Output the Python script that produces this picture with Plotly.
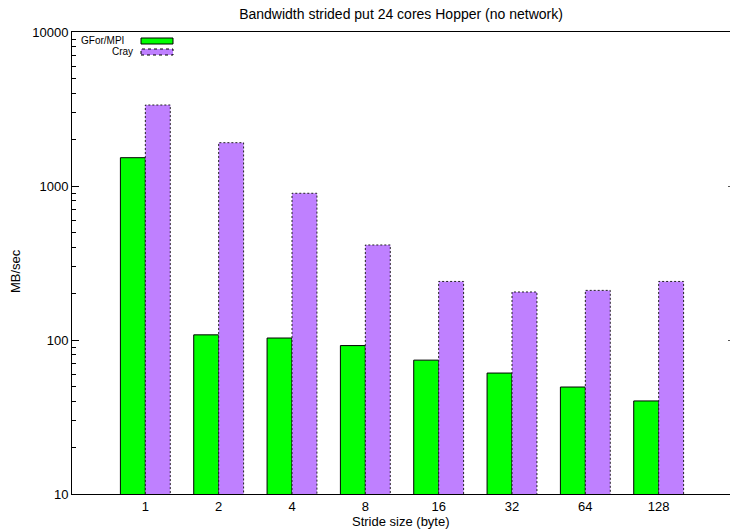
import plotly.graph_objects as go

# Stride sizes (bytes) and measured bandwidth in MB/sec
strides = ["1", "2", "4", "8", "16", "32", "64", "128"]
gfor_mpi = [1527, 108, 103, 92, 74, 61, 49.5, 40.2]
cray = [3357, 1911, 897, 414, 240, 205, 210, 240]

y_ticks = [10, 100, 1000, 10000]
y_tick_text = ["10", "100", "1000", "10000"]

W, H = 730, 529
L, R, T, B = 72, 0, 32, 35
bar_w = 0.34
y_floor = 10

FONT = "Liberation Sans, Arial, sans-serif"
GREEN = "#00ff00"
PURPLE = "#bf80ff"

idx = list(range(len(strides)))

fig = go.Figure()

fig.add_trace(go.Bar(
    x=idx, y=gfor_mpi, width=bar_w, offset=-bar_w,
    marker=dict(color=GREEN, line=dict(color="black", width=1)),
    name="GFor/MPI", showlegend=False,
))
fig.add_trace(go.Bar(
    x=idx, y=cray, width=bar_w, offset=0,
    marker=dict(color=PURPLE, line=dict(width=0)),
    name="Cray", showlegend=False,
))

# dashed outline around each Cray bar
ox, oy = [], []
for i, v in zip(idx, cray):
    ox += [i, i, i + bar_w, i + bar_w, None]
    oy += [y_floor, v, v, y_floor, None]
fig.add_trace(go.Scatter(
    x=ox, y=oy, mode="lines", showlegend=False, hoverinfo="skip",
    line=dict(color="#222222", width=1, dash="2px,2px"),
))

# invisible trace carrying right-hand tick marks
fig.add_trace(go.Scatter(x=[0], y=[100], yaxis="y2", mode="markers",
                         marker=dict(opacity=0), showlegend=False, hoverinfo="skip"))

plot_w = W - L - R
plot_h = H - T - B


def px_x(px):
    return (px - L) / plot_w


def px_y(py):
    return (H - B - py) / plot_h


# key in the upper-left corner: label to the left, sample to the right
legend_rows = [("GFor/MPI", GREEN, "solid", 41, 125), ("Cray", PURPLE, "dot", 52, 134)]
for label, color, dash, yc, xr in legend_rows:
    fig.add_annotation(xref="paper", yref="paper", x=px_x(xr), y=px_y(yc),
                       text=label, showarrow=False, xanchor="right", yanchor="middle",
                       borderpad=0,
                       font=dict(family=FONT, size=10, color="black"))
    fig.add_shape(type="rect", xref="paper", yref="paper",
                  x0=px_x(141), x1=px_x(173), y0=px_y(yc + 3), y1=px_y(yc - 3),
                  fillcolor=color, line=dict(color="black", width=1, dash=dash))

# axis titles
fig.add_annotation(xref="paper", yref="paper", x=0.5, y=px_y(521),
                   text="Stride size (byte)", showarrow=False,
                   xanchor="center", yanchor="middle", borderpad=0,
                   font=dict(family=FONT, size=13))
fig.add_annotation(xref="paper", yref="paper", x=px_x(15), y=px_y(271),
                   text="MB/sec", showarrow=False, textangle=-90,
                   xanchor="center", yanchor="middle", borderpad=0,
                   font=dict(family=FONT, size=13))

fig.update_layout(
    width=W, height=H,
    margin=dict(l=L, r=R, t=T, b=B),
    paper_bgcolor="white", plot_bgcolor="white",
    barmode="overlay",
    font=dict(family=FONT, size=13, color="black"),
    title=dict(text="Bandwidth strided put 24 cores Hopper (no network)",
               x=0.5, xref="paper", y=1 - 14 / H, yanchor="middle",
               font=dict(family=FONT, size=14)),
    xaxis=dict(
        range=[-1, 8 - 2 / 73.3], tickvals=idx, ticktext=strides,
        ticks="", showgrid=False, zeroline=False,
        showline=True, linecolor="black", linewidth=1, mirror=True,
        tickfont=dict(family=FONT, size=13),
    ),
    yaxis=dict(
        type="log", range=[1, 4], tickvals=y_ticks, ticktext=y_tick_text,
        ticks="inside", ticklen=7, tickcolor="black",
        minor=dict(dtick="D1", ticks="inside", ticklen=4, tickcolor="black", showgrid=False),
        showgrid=False, zeroline=False,
        showline=True, linecolor="black", linewidth=1,
        tickfont=dict(family=FONT, size=13),
    ),
    yaxis2=dict(
        type="log", range=[1, 4], overlaying="y", side="right",
        tickvals=[100, 1000], showticklabels=False,
        ticks="inside", ticklen=2, tickcolor="#555555",
        showgrid=False, zeroline=False, showline=False,
    ),
)

fig.write_html("out.html")
